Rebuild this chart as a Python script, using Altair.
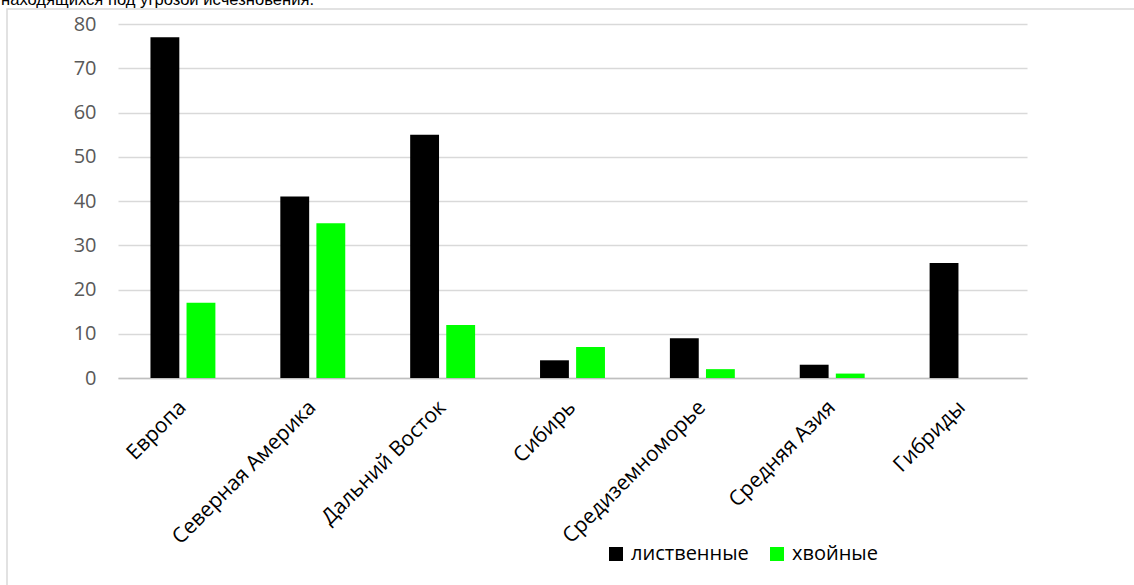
import altair as alt
import pandas as pd

regions = ["Европа", "Северная Америка", "Дальний Восток", "Сибирь",
           "Средиземноморье", "Средняя Азия", "Гибриды"]
deciduous = [77, 41, 55, 4, 9, 3, 26]
coniferous = [17, 35, 12, 7, 2, 1, 0]
groups = ["лиственные", "хвойные"]
group_colors = ["#000000", "#00ff00"]
y_ticks = [0, 10, 20, 30, 40, 50, 60, 70, 80]
caption = "находящихся под угрозой исчезновения."

rows = []
for r, d, c in zip(regions, deciduous, coniferous):
    rows.append({"region": r, "group": groups[0], "count": d})
    rows.append({"region": r, "group": groups[1], "count": c})
df = pd.DataFrame(rows)

FONT = "Open Sans"
W, H = 909, 354
PAD_L, PAD_T = 118, 24

bars = alt.Chart(df).mark_bar().encode(
    x=alt.X("region:N", sort=regions, title=None,
            scale=alt.Scale(paddingInner=0.5, paddingOuter=0.25),
            axis=alt.Axis(labelAngle=-45, labelAlign="right", labelBaseline="middle",
                          labelPadding=26, ticks=False, domainColor="#bfbfbf",
                          domainWidth=1.5, labelFont=FONT, labelFontSize=21,
                          labelColor="#000000", labelLimit=400)),
    xOffset=alt.XOffset("group:N", sort=groups,
                        scale=alt.Scale(paddingInner=0.2)),
    y=alt.Y("count:Q", title=None,
            scale=alt.Scale(domain=[0, 80], nice=False),
            axis=alt.Axis(values=y_ticks, ticks=False, domain=False,
                          gridColor="#d9d9d9", gridWidth=1.5, labelPadding=22,
                          labelFont=FONT, labelFontSize=20, labelColor="#595959")),
    color=alt.Color("group:N", sort=groups, title=None,
                    scale=alt.Scale(domain=groups, range=group_colors),
                    legend=alt.Legend(orient="none", legendX=488, legendY=520,
                                      direction="horizontal", symbolType="square",
                                      symbolSize=196, symbolStrokeWidth=0,
                                      labelFont=FONT, labelFontSize=20,
                                      labelColor="#000000", labelOffset=5,
                                      columnPadding=18, padding=0)),
)

frame_df = pd.DataFrame({"k": [0]})
frame = alt.Chart(frame_df).mark_rect(fill=None, stroke="#d9d9d9", strokeWidth=1.5).encode(
    x=alt.value(7 - PAD_L), x2=alt.value(3000),
    y=alt.value(9 - PAD_T), y2=alt.value(3000),
)
top_text = alt.Chart(frame_df).mark_text(
    align="left", baseline="alphabetic", font="Liberation Sans", fontSize=16.6,
    color="#000000",
).encode(
    x=alt.value(1 - PAD_L), y=alt.value(5 - PAD_T), text=alt.value(caption),
)

chart = alt.layer(frame, bars, top_text).properties(
    width=W, height=H,
    autosize=alt.AutoSizeParams(type="none"),
    padding={"left": PAD_L, "top": PAD_T, "right": 1134 - PAD_L - W,
             "bottom": 585 - PAD_T - H},
).configure(background="#ffffff").configure_view(stroke=None, strokeWidth=0)

chart.save("out.html", embed_options={"renderer": "svg", "actions": False})
